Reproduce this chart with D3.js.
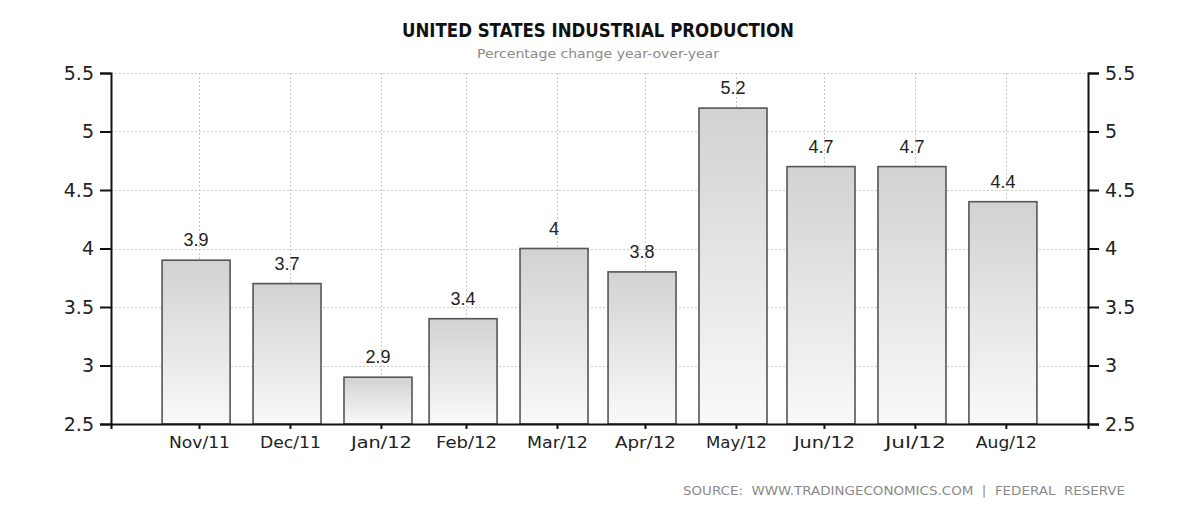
<!DOCTYPE html>
<html>
<head>
<meta charset="utf-8">
<script src="https://cdn.jsdelivr.net/npm/d3@7"></script>
<style>
  html, body { margin: 0; padding: 0; background: #ffffff; }
  svg { display: block; }
</style>
</head>
<body>
<svg id="chart" width="1200" height="514"></svg>
<script>
// ---- data ----
const categories = ["Nov/11", "Dec/11", "Jan/12", "Feb/12", "Mar/12", "Apr/12", "May/12", "Jun/12", "Jul/12", "Aug/12"];
const periodEnds = ["2011-11-30", "2011-12-31", "2012-01-31", "2012-02-29", "2012-03-31", "2012-04-30", "2012-05-31", "2012-06-30", "2012-07-31", "2012-08-31"];
const values = [3.9, 3.7, 2.9, 3.4, 4.0, 3.8, 5.2, 4.7, 4.7, 4.4];
const valueLabels = ["3.9", "3.7", "2.9", "3.4", "4", "3.8", "5.2", "4.7", "4.7", "4.4"];
const yTicks = [2.5, 3, 3.5, 4, 4.5, 5, 5.5];
const yTickLabels = ["2.5", "3", "3.5", "4", "4.5", "5", "5.5"];
const xDomain = ["2011-11-01", "2012-09-29"];
const titleText = "UNITED STATES INDUSTRIAL PRODUCTION";
const subtitleText = "Percentage change year-over-year";
const sourceText = "SOURCE:  WWW.TRADINGECONOMICS.COM  |  FEDERAL  RESERVE";

// ---- layout ----
const margin = { left: 111, right: 112, top: 73, bottom: 90 };
const W = 1200, H = 514;
const plotW = W - margin.left - margin.right;
const plotH = H - margin.top - margin.bottom;
const parse = d3.utcParse("%Y-%m-%d");
const dates = periodEnds.map(parse);
const data = categories.map((c, i) => ({ cat: c, date: dates[i], value: values[i], label: valueLabels[i] }));

const svg = d3.select("#chart");
const defs = svg.append("defs");
const grad = defs.append("linearGradient").attr("id", "barGrad")
  .attr("x1", 0).attr("y1", 0).attr("x2", 0).attr("y2", 1);
grad.append("stop").attr("offset", "0%").attr("stop-color", "#d2d2d2");
grad.append("stop").attr("offset", "100%").attr("stop-color", "#f9f9f9");

const x = d3.scaleUtc().domain(xDomain.map(parse)).range([0, plotW]);
const y = d3.scaleLinear().domain([2.5, 5.5]).range([plotH, 0]);
const dayMs = 24 * 3600 * 1000;
const tickDates = dates.map(d => new Date(d.getTime() + dayMs));
const barWidth = 68;

const g = svg.append("g").attr("transform", `translate(${margin.left},${margin.top})`);

// gridlines
g.append("g").selectAll("line.hg").data(yTicks).join("line")
  .attr("x1", 0).attr("x2", plotW)
  .attr("y1", d => Math.round(y(d)) + 0.5).attr("y2", d => Math.round(y(d)) + 0.5)
  .attr("stroke", "#c8c8c8").attr("stroke-width", 1).attr("stroke-dasharray", "2,2");
g.append("g").selectAll("line.vg").data(tickDates).join("line")
  .attr("y1", 0).attr("y2", plotH)
  .attr("x1", d => Math.round(x(d)) + 0.5).attr("x2", d => Math.round(x(d)) + 0.5)
  .attr("stroke", "#c8c8c8").attr("stroke-width", 1).attr("stroke-dasharray", "2,2");

// bars
g.append("g").selectAll("rect").data(data).join("rect")
  .attr("x", d => x(d.date) - barWidth / 2)
  .attr("y", d => y(d.value))
  .attr("width", barWidth)
  .attr("height", d => plotH - y(d.value))
  .attr("fill", "url(#barGrad)")
  .attr("stroke", "#555555").attr("stroke-width", 1.6);

// value labels
g.append("g").selectAll("text").data(data).join("text")
  .attr("x", d => x(d.date))
  .attr("y", d => y(d.value) - 14)
  .attr("text-anchor", "middle")
  .attr("font-family", "Liberation Sans, Arial, sans-serif")
  .attr("font-size", 18)
  .attr("fill", "#222")
  .text(d => d.label);

// axes
const labelFont = "DejaVu Sans, Verdana, sans-serif";
const yLeft = g.append("g")
  .call(d3.axisLeft(y).tickValues(yTicks).tickFormat((d, i) => yTickLabels[i]).tickSize(11).tickPadding(6));
const yRight = g.append("g").attr("transform", `translate(${plotW},0)`)
  .call(d3.axisRight(y).tickValues(yTicks).tickFormat((d, i) => yTickLabels[i]).tickSize(11).tickPadding(6));
const xAxis = g.append("g").attr("transform", `translate(0,${plotH})`)
  .call(d3.axisBottom(x).tickValues(tickDates).tickFormat((d, i) => categories[i]).tickSize(5).tickPadding(8));

[yLeft, yRight].forEach(ax => {
  ax.select(".domain").attr("stroke", "#111").attr("stroke-width", 2);
  ax.selectAll(".tick line").attr("stroke", "#111").attr("stroke-width", 2);
  ax.selectAll(".tick text").attr("font-family", labelFont).attr("font-size", 19).attr("fill", "#222");
});
xAxis.select(".domain").attr("stroke", "#111").attr("stroke-width", 2);
xAxis.selectAll(".tick line").attr("stroke", "#111").attr("stroke-width", 2);
xAxis.selectAll(".tick text").attr("font-family", labelFont).attr("font-size", 16).attr("fill", "#222")
  .attr("textLength", 61).attr("lengthAdjust", "spacingAndGlyphs");

// titles
svg.append("text").attr("x", 598).attr("y", 37).attr("text-anchor", "middle")
  .attr("font-family", labelFont).attr("font-weight", "bold").attr("font-size", 19)
  .attr("fill", "#111").attr("textLength", 392).attr("lengthAdjust", "spacingAndGlyphs")
  .text(titleText);
svg.append("text").attr("x", 598).attr("y", 58).attr("text-anchor", "middle")
  .attr("font-family", labelFont).attr("font-size", 13)
  .attr("fill", "#8a8a8a").attr("textLength", 242).attr("lengthAdjust", "spacingAndGlyphs")
  .text(subtitleText);
svg.append("text").attr("x", 683).attr("y", 495)
  .attr("font-family", labelFont).attr("font-size", 12)
  .attr("fill", "#8a8a8a").attr("textLength", 442).attr("lengthAdjust", "spacingAndGlyphs")
  .attr("xml:space", "preserve")
  .text(sourceText);
</script>
</body>
</html>
